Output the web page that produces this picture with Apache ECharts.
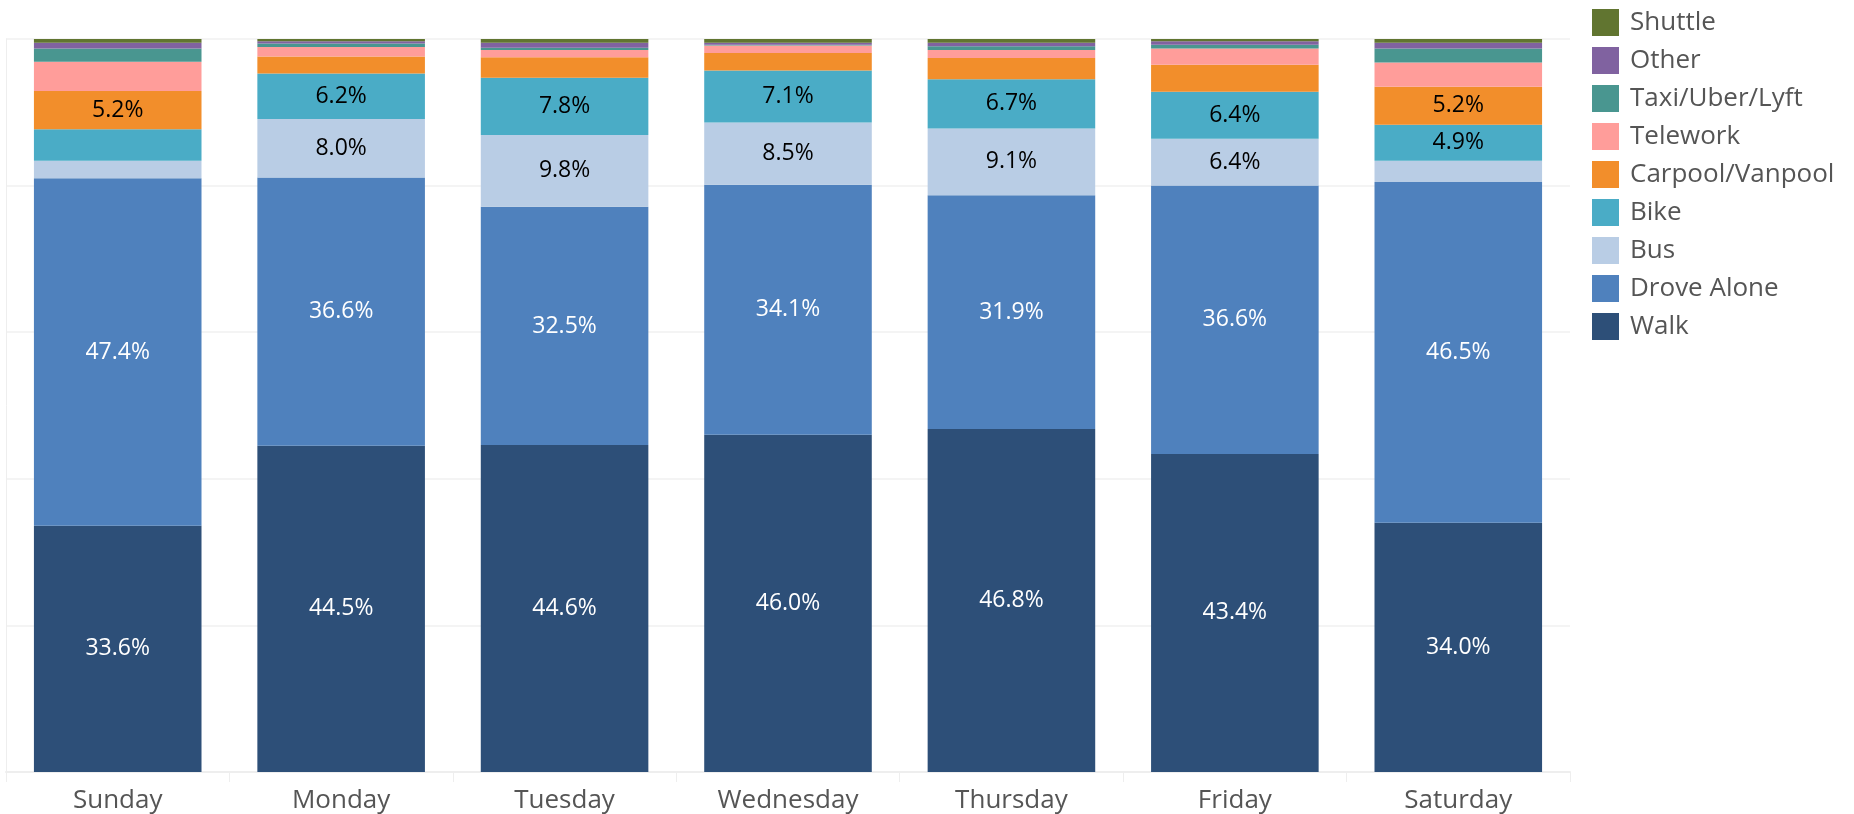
<!DOCTYPE html>
<html>
<head>
<meta charset="utf-8">
<script src="https://cdn.jsdelivr.net/npm/echarts@6/dist/echarts.min.js"></script>
<style>
  html, body { margin: 0; padding: 0; background: #fff; }
  #main { width: 1854px; height: 814px; }
</style>
</head>
<body>
<div id="main"></div>
<script>
// days along the x axis
const days = ['Sunday', 'Monday', 'Tuesday', 'Wednesday', 'Thursday', 'Friday', 'Saturday'];

// share of trips (%) per mode, stacked bottom -> top
const walk       = [33.6, 44.5, 44.6, 46.0, 46.8, 43.4, 34.0];
const droveAlone = [47.4, 36.6, 32.5, 34.1, 31.9, 36.6, 46.5];
const bus        = [2.4, 8.0, 9.8, 8.5, 9.1, 6.4, 2.9];
const bike       = [4.3, 6.2, 7.8, 7.1, 6.7, 6.4, 4.9];
const carpool    = [5.2, 2.3, 2.8, 2.4, 2.9, 3.7, 5.2];
const telework   = [4.0, 1.3, 1.0, 1.0, 1.1, 2.2, 3.3];
const taxi       = [1.8, 0.5, 0.3, 0.1, 0.5, 0.5, 1.9];
const other      = [0.8, 0.3, 0.7, 0.3, 0.5, 0.5, 0.8];
const shuttle    = [0.5, 0.3, 0.5, 0.5, 0.5, 0.3, 0.5];

const yTicks = [0, 20, 40, 60, 80, 100];

const modes = [
  {name: 'Walk', data: walk, color: '#2d4f78', text: '#fff'},
  {name: 'Drove Alone', data: droveAlone, color: '#4f81bd', text: '#fff'},
  {name: 'Bus', data: bus, color: '#b9cde5', text: '#000'},
  {name: 'Bike', data: bike, color: '#4aacc6', text: '#000'},
  {name: 'Carpool/Vanpool', data: carpool, color: '#f28e2b', text: '#000'},
  {name: 'Telework', data: telework, color: '#ff9d9a', text: '#000'},
  {name: 'Taxi/Uber/Lyft', data: taxi, color: '#499690', text: '#000'},
  {name: 'Other', data: other, color: '#8062a0', text: '#000'},
  {name: 'Shuttle', data: shuttle, color: '#617530', text: '#000'}
];

const font = 'Open Sans';

const chart = echarts.init(document.getElementById('main'));

const option = {
  animation: false,
  textStyle: {fontFamily: font},
  legend: {
    orient: 'vertical',
    left: 1592,
    top: 9,
    itemWidth: 27,
    itemHeight: 27,
    itemGap: 11,
    icon: 'rect',
    padding: 0,
    data: modes.map(m => m.name).reverse(),
    textStyle: {fontSize: 26, color: '#555', fontFamily: font, padding: [0, 0, 0, 6]}
  },
  grid: {left: 6, right: 284, top: 39, bottom: 42},
  xAxis: {
    type: 'category',
    data: days,
    axisLine: {show: true, lineStyle: {color: '#eeeeee', width: 2}},
    axisTick: {show: true, interval: 0, length: 10, lineStyle: {color: '#eeeeee'}},
    axisLabel: {fontSize: 26, color: '#555', margin: 16, fontFamily: font}
  },
  yAxis: {
    type: 'value',
    min: yTicks[0],
    max: yTicks[yTicks.length - 1],
    interval: 20,
    axisLabel: {show: false},
    axisLine: {show: true, lineStyle: {color: '#eeeeee'}},
    axisTick: {show: false},
    splitLine: {lineStyle: {color: '#f0f0f0', width: 1.5}}
  },
  series: modes.map(m => ({
    name: m.name,
    type: 'bar',
    stack: 'total',
    barCategoryGap: '25%',
    data: m.data,
    itemStyle: {color: m.color},
    label: {
      show: true,
      position: 'inside',
      fontSize: 23,
      fontFamily: font,
      color: m.text,
      formatter: p => p.value >= 4.5 ? p.value.toFixed(1) + '%' : ''
    }
  }))
};

chart.setOption(option);
</script>
</body>
</html>
